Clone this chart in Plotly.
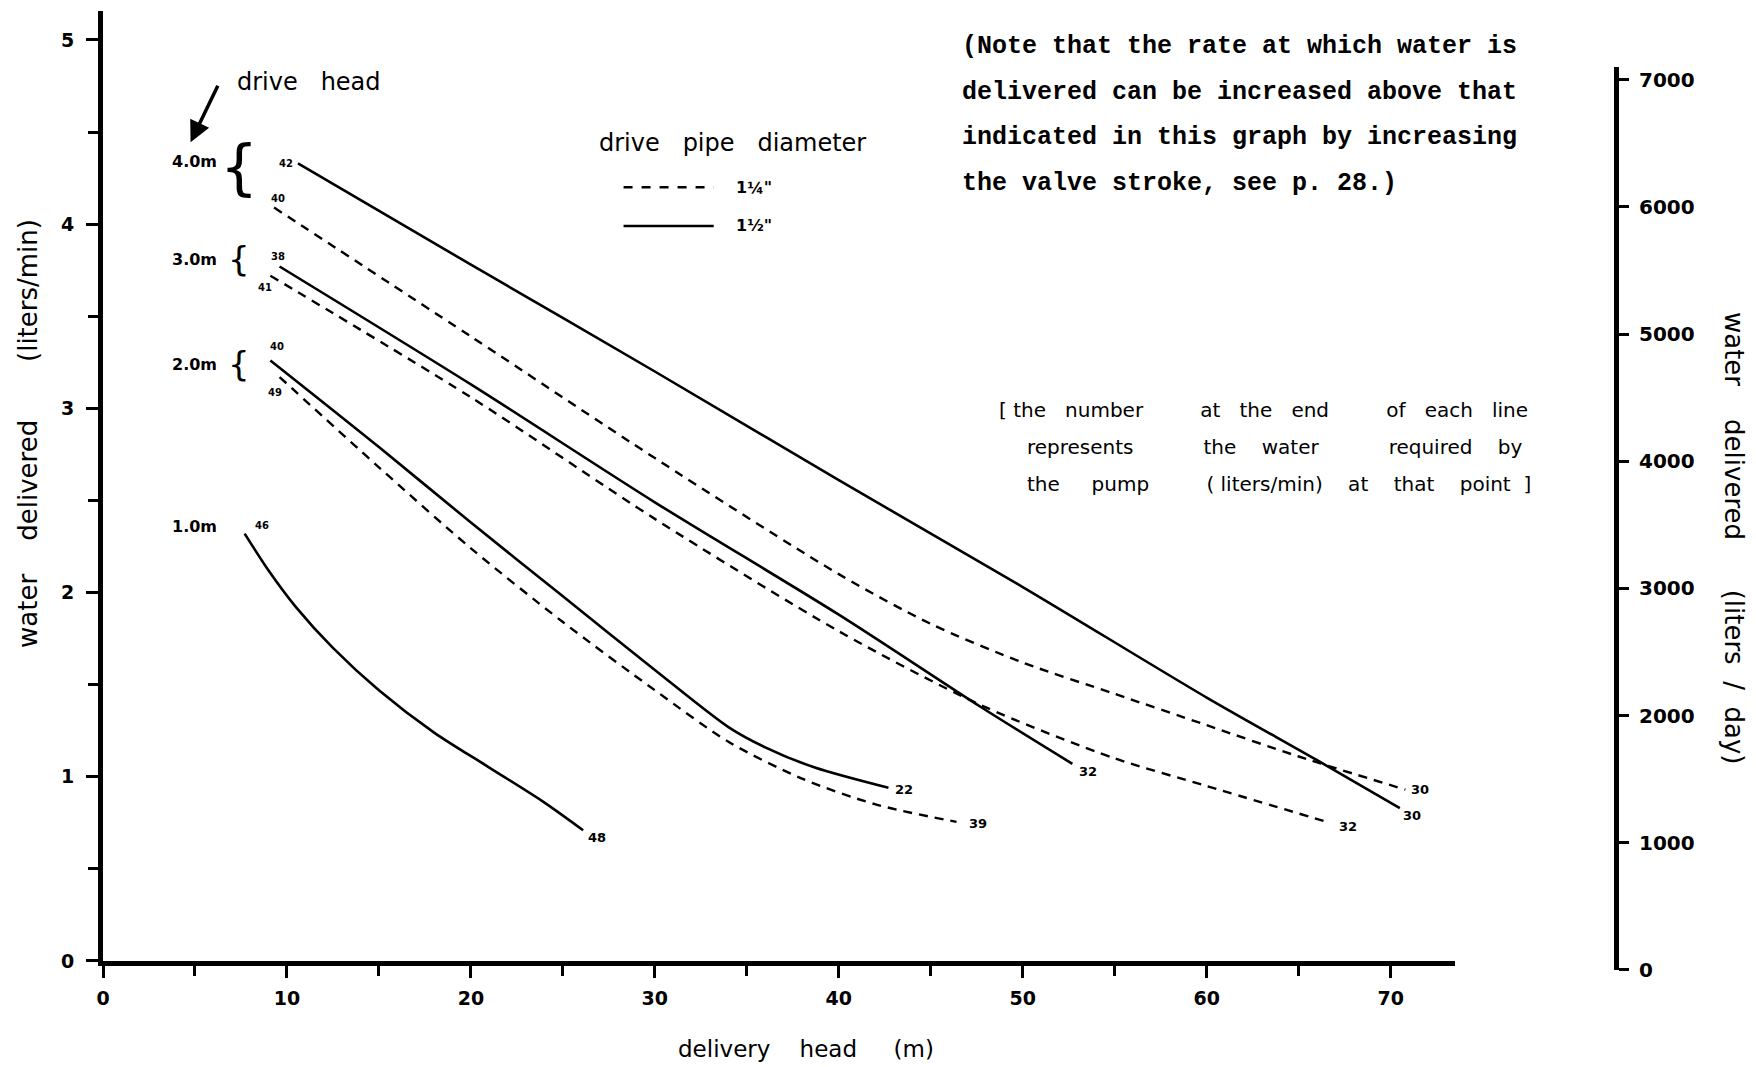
import plotly.graph_objects as go

# delivery head (m) against water delivered (liters/min)
# "wide" = 1 1/2" drive pipe (solid), "narrow" = 1 1/4" drive pipe (dashed)
head_4m_wide = [10.6, 20.0, 30.0, 40.0, 50.0, 60.0, 66.0, 70.5]
flow_4m_wide = [4.33, 3.78, 3.20, 2.61, 2.03, 1.43, 1.09, 0.83]
head_4m_narrow = [9.3, 20.0, 30.0, 40.0, 45.0, 50.0, 55.0, 60.0, 65.0, 70.8]
flow_4m_narrow = [4.09, 3.39, 2.73, 2.10, 1.83, 1.62, 1.45, 1.28, 1.11, 0.93]

head_3m_wide = [9.6, 20.0, 30.0, 40.0, 47.7, 52.7]
flow_3m_wide = [3.77, 3.13, 2.49, 1.88, 1.38, 1.07]
head_3m_narrow = [9.1, 20.0, 30.0, 40.0, 47.7, 55.0, 60.0, 66.7]
flow_3m_narrow = [3.72, 3.06, 2.40, 1.79, 1.39, 1.10, 0.95, 0.75]

head_2m_wide = [9.1, 15.0, 20.0, 25.0, 30.0, 34.0, 36.0, 38.7, 42.7]
flow_2m_wide = [3.26, 2.79, 2.38, 1.98, 1.58, 1.27, 1.16, 1.05, 0.94]
head_2m_narrow = [9.6, 15.0, 20.0, 25.0, 30.0, 34.0, 38.0, 42.0, 46.4]
flow_2m_narrow = [3.17, 2.68, 2.24, 1.84, 1.47, 1.19, 0.99, 0.85, 0.755]

head_1m_wide = [7.7, 9.0, 10.5, 12.5, 15.0, 18.0, 21.0, 24.0, 26.1]
flow_1m_wide = [2.32, 2.12, 1.92, 1.70, 1.47, 1.24, 1.05, 0.86, 0.71]

# water required by the pump (liters/min) at the start and end of each line
start_required = [42, 40, 38, 41, 40, 49, 46]
end_required = [30, 30, 32, 32, 22, 39, 48]

drive_heads = ["4.0m", "3.0m", "2.0m", "1.0m"]
drive_head_flow = [4.34, 3.81, 3.24, 2.36]
pipe_labels = ['1¼"', '1½"']

curves = [
    (head_4m_wide, flow_4m_wide, "wide"),
    (head_4m_narrow, flow_4m_narrow, "narrow"),
    (head_3m_wide, flow_3m_wide, "wide"),
    (head_3m_narrow, flow_3m_narrow, "narrow"),
    (head_2m_wide, flow_2m_wide, "wide"),
    (head_2m_narrow, flow_2m_narrow, "narrow"),
    (head_1m_wide, flow_1m_wide, "wide"),
]

HAND = "DejaVu Sans"
TYPE = "Liberation Mono"
NB = "\u00a0"


def sp(text, n=2):
    # hand lettering is widely spaced
    return text.replace(" ", NB * n)


# label offsets (px) relative to the first / last point of each line
start_shift = [(-12, 0), (4, 9), (-2, 10), (-5, -12), (7, 14), (-5, -15), (17, 8)]
end_shift = [(12, -7), (15, 0), (16, -8), (18, -4), (16, -2), (21, -2), (14, -7)]

fig = go.Figure()
annotations = []

for i, (hx, fy, pipe) in enumerate(curves):
    fig.add_trace(go.Scatter(
        x=hx, y=fy, mode="lines",
        line=dict(color="black", width=2.6 if pipe == "wide" else 2.4,
                  dash="solid" if pipe == "wide" else "9px,7px",
                  shape="spline", smoothing=0.8),
        showlegend=False, hoverinfo="skip",
    ))
    annotations.append(dict(
        x=hx[0], y=fy[0], text=str(start_required[i]), showarrow=False,
        xshift=start_shift[i][0], yshift=start_shift[i][1],
        font=dict(family=HAND, size=10, color="black", weight="bold"),
    ))
    annotations.append(dict(
        x=hx[-1], y=fy[-1], text=str(end_required[i]), showarrow=False,
        xshift=end_shift[i][0], yshift=end_shift[i][1],
        font=dict(family=HAND, size=13, color="black", weight="bold"),
    ))

# empty trace so the liters/day axis is drawn
fig.add_trace(go.Scatter(x=[], y=[], yaxis="y2", showlegend=False, hoverinfo="skip"))

# drive head labels and braces
brace_size = [60, 34, 34, None]
brace_shift = [-5, 0, 0, 0]
for k, name in enumerate(drive_heads):
    annotations.append(dict(
        x=5.0, y=drive_head_flow[k], text=name, showarrow=False,
        font=dict(family=HAND, size=16, color="black", weight="bold"),
    ))
    if brace_size[k]:
        annotations.append(dict(
            x=7.4, y=drive_head_flow[k], text="{", showarrow=False,
            yshift=brace_shift[k],
            font=dict(family=HAND, size=brace_size[k], color="black"),
        ))

# "drive head" with its arrow
annotations.append(dict(
    x=11.2, y=4.773, text=sp("drive head", 3), showarrow=False,
    font=dict(family=HAND, size=24, color="black"),
))
annotations.append(dict(
    x=4.76, y=4.445, text="", showarrow=True,
    ax=28, ay=-58, arrowhead=2, arrowsize=1.2, arrowwidth=3.5, arrowcolor="black",
))

# legend for drive pipe diameter
annotations.append(dict(
    x=34.2, y=4.44, text=sp("drive pipe diameter", 3), showarrow=False,
    font=dict(family=HAND, size=24, color="black"),
))
shapes = []
for k, (yy, dash) in enumerate([(4.20, "dash"), (3.99, "solid")]):
    shapes.append(dict(type="line", xref="x", yref="y", x0=28.3, x1=33.2, y0=yy, y1=yy,
                       line=dict(color="black", width=2.6, dash=dash)))
    annotations.append(dict(
        x=34.3, y=yy, text=pipe_labels[k], showarrow=False, xanchor="left",
        font=dict(family=HAND, size=16, color="black", weight="bold"),
    ))

# typewritten note
note_lines = [
    "(Note that the rate at which water is",
    "delivered can be increased above that",
    "indicated in this graph by increasing",
    "the valve stroke, see p. 28.)",
]
for k, line in enumerate(note_lines):
    annotations.append(dict(
        xref="paper", yref="paper", x=0.5664, y=0.9625 - k * 0.0473,
        text=line.replace(" ", NB), showarrow=False, xanchor="left", yanchor="middle",
        font=dict(family=TYPE, size=25, color="black", weight="bold"),
    ))

# hand-lettered explanation
hand_lines = [
    "[" + NB + "the" + NB * 3 + "number" + NB * 9 + "at" + NB * 3 + "the" + NB * 3 + "end"
    + NB * 9 + "of" + NB * 3 + "each" + NB * 3 + "line",
    "represents" + NB * 11 + "the" + NB * 4 + "water" + NB * 11 + "required" + NB * 4 + "by",
    "the" + NB * 5 + "pump" + NB * 9 + "(" + NB + "liters/min)" + NB * 4 + "at" + NB * 4
    + "that" + NB * 4 + "point" + NB * 2 + "]",
]
hand_x = [0.5909, 0.6094, 0.6094]
for k, line in enumerate(hand_lines):
    annotations.append(dict(
        xref="paper", yref="paper", x=hand_x[k], y=0.5839 - k * 0.0386,
        text=line, showarrow=False, xanchor="left", yanchor="middle",
        font=dict(family=HAND, size=20, color="black"),
    ))

# axis titles
annotations += [
    dict(xref="paper", yref="paper", x=-0.0496, y=0.56, textangle=-90,
         xanchor="center", yanchor="middle",
         text=sp("water delivered", 4) + NB * 7 + sp("(liters/min)"), showarrow=False,
         font=dict(family=HAND, size=26, color="black")),
    dict(xref="paper", yref="paper", x=0.4647, y=-0.0824,
         xanchor="center", yanchor="middle",
         text=sp("delivery head", 4) + NB * 5 + "(m)", showarrow=False,
         font=dict(family=HAND, size=23, color="black")),
    dict(xref="paper", yref="paper", x=1.078, y=0.4505, textangle=90,
         xanchor="center", yanchor="middle",
         text=sp("water delivered", 4) + NB * 6 + "(liters" + NB * 2 + "/" + NB * 2 + "day)",
         showarrow=False,
         font=dict(family=HAND, size=26, color="black")),
]

tick_font = dict(family=HAND, size=19, color="black", weight="bold")

fig.update_layout(
    width=1748, height=1059,
    margin=dict(l=95, r=140, t=3, b=97),
    paper_bgcolor="white", plot_bgcolor="rgba(0,0,0,0)",
    showlegend=False,
    xaxis=dict(
        domain=[0, 0.8936], range=[0, 73.5], anchor="y",
        showline=True, linewidth=5, linecolor="black",
        showgrid=False, zeroline=False,
        tick0=0, dtick=10, ticks="outside", ticklen=12, tickwidth=3, tickcolor="black",
        minor=dict(dtick=5, ticks="outside", ticklen=10, tickwidth=2.5, tickcolor="black"),
        tickfont=tick_font, ticklabelstandoff=4,
    ),
    yaxis=dict(
        domain=[0.0094, 1], range=[0, 5.157], anchor="x",
        showline=True, linewidth=5, linecolor="black",
        showgrid=False, zeroline=False,
        tick0=0, dtick=1, ticks="outside", ticklen=12, tickwidth=3, tickcolor="black",
        minor=dict(dtick=0.5, ticks="outside", ticklen=10, tickwidth=2.5, tickcolor="black"),
        tickfont=tick_font, ticklabelstandoff=8,
    ),
    yaxis2=dict(
        domain=[0, 0.9416], range=[0, 7100], anchor="free", position=1.0, side="right",
        showline=True, linewidth=5, linecolor="black",
        showgrid=False, zeroline=False,
        tick0=0, dtick=1000, ticks="outside", ticklen=10, tickwidth=3, tickcolor="black",
        tickfont=dict(family=HAND, size=20, color="black", weight="bold"),
        ticklabelstandoff=6,
    ),
    annotations=annotations,
    shapes=shapes,
)

fig.write_html("out.html")
